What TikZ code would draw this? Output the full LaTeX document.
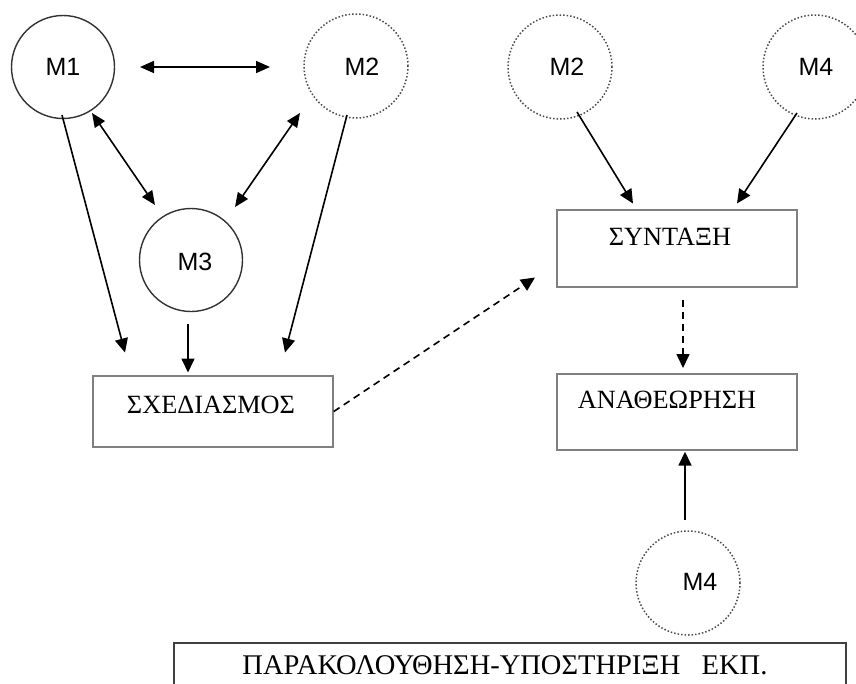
\documentclass[tikz,border=0pt]{standalone}
\usepackage{fontspec}
\setmainfont{Liberation Serif}
\newfontfamily\labelfont{Liberation Sans}
\usetikzlibrary{arrows.meta,calc}

\tikzset{
  px/.style={x=1pt,y=-1pt},
  solidcirc/.style={circle,draw=black!80,line width=1.4pt,minimum size=103pt,inner sep=0pt},
  dotcirc/.style={circle,draw=black!70,line width=1.5pt,dotted,minimum size=104pt,inner sep=0pt},
  memlabel/.style={font=\labelfont\fontsize{25}{27}\selectfont,inner sep=0pt},
  taskbox/.style={draw=black!50,line width=1.4pt,inner sep=0pt},
  boxtext/.style={font=\fontsize{26.3}{28}\selectfont,inner sep=0pt},
  link/.style={line width=1.6pt,-{Triangle[length=14pt,width=13pt]}},
  twoway/.style={line width=1.6pt,{Triangle[length=14pt,width=12pt]}-{Triangle[length=14pt,width=12pt]}},
  dashlink/.style={link,dash pattern=on 7pt off 5pt},
}

\begin{document}
\begin{tikzpicture}[px]
  \useasboundingbox (0,0) rectangle (856,683);
  \clip (0,0) rectangle (856,683);
  \fill[white] (0,0) rectangle (856,683);

  % left group of members
  \node[solidcirc] (m1) at (63,67) {};
  \node[memlabel] (m1t) at (63,67) {M1};
  \node[dotcirc] (m2) at (356,66) {};
  \node[memlabel] (m2t) at (362,67) {M2};
  \node[solidcirc] (m3) at (191,260) {};
  \node[memlabel] (m3t) at (195,262) {M3};

  % right group of members
  \node[dotcirc] (m2r) at (560,67) {};
  \node[memlabel] (m2rt) at (567,67) {M2};
  \node[dotcirc] (m4r) at (815,67) {};
  \node[memlabel] (m4rt) at (816,67) {M4};
  \node[dotcirc] (m4b) at (688,583) {};
  \node[memlabel] (m4bt) at (700,582) {M4};

  % stage boxes
  \node[taskbox,minimum width=240pt,minimum height=71pt] (plan) at (213,411.5) {};
  \node[boxtext] (plant) at (211,405) {ΣΧΕΔΙΑΣΜΟΣ};
  \node[taskbox,minimum width=240pt,minimum height=77pt] (write) at (677,248.5) {};
  \node[boxtext] (writet) at (670,237) {ΣΥΝΤΑΞΗ};
  \node[taskbox,minimum width=240pt,minimum height=76pt] (review) at (677,412) {};
  \node[boxtext] (reviewt) at (667,400) {ΑΝΑΘΕΩΡΗΣΗ};

  % support box along the bottom
  \node[draw=black!75,line width=2pt,minimum width=672pt,minimum height=80pt,inner sep=0pt,anchor=north west] (support) at (173,642) {};
  \node[font=\fontsize{28.5}{30}\selectfont,inner sep=0pt,anchor=base] (supportt) at (505,674) {ΠΑΡΑΚΟΛΟΥΘΗΣΗ-ΥΠΟΣΤΗΡΙΞΗ\ \ \ ΕΚΠ.};

  % exchanges between members
  \draw[twoway] ($(m1)+(77,0)$) -- ($(m2)+(-86,1)$);
  \draw[twoway] ($(m1)+(29,46)$) -- ($(m3)+(-36,-55)$);
  \draw[twoway] ($(m2)+(-56,47)$) -- ($(m3)+(44,-53)$);

  % contributions to planning
  \draw[link] ($(m1)+(-1,48)$) -- ($(plan)+(-88,-59)$);
  \draw[link] ($(m2)+(-9,49)$) -- ($(plan)+(72,-59)$);
  \draw[link] ($(m3)+(-3,64)$) -- ($(plan)+(-25,-39)$);

  % contributions to writing and review
  \draw[link] ($(m2r)+(17,45)$) -- ($(write)+(-44,-45)$);
  \draw[link] ($(m4r)+(-18,46)$) -- ($(write)+(60,-45)$);
  \draw[link] ($(m4b)+(-3,-63)$) -- ($(review.south)+(8,1)$);

  % flow between stages
  \draw[dashlink] (plan.east) -- ($(write)+(-142,29)$);
  \draw[dashlink] ($(write)+(6,51)$) -- ($(review)+(6,-44)$);
\end{tikzpicture}
\end{document}
